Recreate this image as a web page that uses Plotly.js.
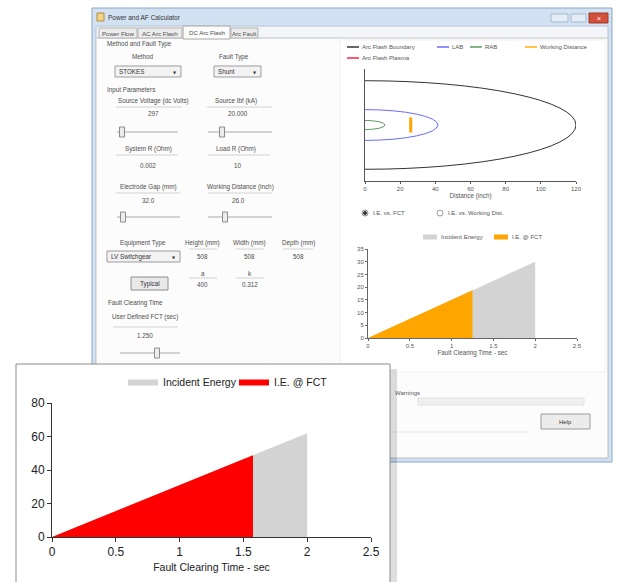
<!DOCTYPE html>
<html><head><meta charset="utf-8">
<script src="https://cdn.plot.ly/plotly-3.0.1.min.js"></script>
<style>html,body{margin:0;padding:0;background:#fff}#chart{width:620px;height:582px}</style>
</head><body><div id="chart"></div>
<script>
// ================= DATA =================
// Inset chart: incident energy vs fault clearing time
const ieTime = [0, 2.0];
const ieEnergy = [0, 62];
const fctTime = [0, 1.575];
const fctEnergy = [0, 48.8];
const ieXTicks = [0, 0.5, 1, 1.5, 2, 2.5];
const ieXLabels = ['0', '0.5', '1', '1.5', '2', '2.5'];
const ieYTicks = [0, 20, 40, 60, 80];
const ieSeriesNames = ['Incident Energy', 'I.E. @ FCT'];

// Small chart inside the calculator window
const winIeTime = [0, 2.0];
const winIeEnergy = [0, 30];
const winFctTime = [0, 1.25];
const winFctEnergy = [0, 18.75];
const winYTicks = [0, 5, 10, 15, 20, 25, 30, 35];

// Boundary chart inside the calculator window (inch)
const boundaryNames = ['Arc Flash Boundary', 'LAB', 'RAB'];
const boundaryDistance = [120, 41.5, 11.4];
const boundaryHalfHeight = [25.3, 8.8, 2.6];
const workingDistance = 26.0;
const workingHalfHeight = 4.3;
const distTicks = [0, 20, 40, 60, 80, 100, 120];

// ================= HELPERS =================
const W = 620, H = 582;
const px = x => x / W, py = y => 1 - y / H;
const UI = 'Liberation Sans, Arial, sans-serif';
const shapes = [], ann = [];
function rect(x0, y0, x1, y1, fill, line, lw) {
  shapes.push({type: 'rect', xref: 'paper', yref: 'paper', layer: 'below',
    x0: px(x0), x1: px(x1), y0: py(y1), y1: py(y0),
    fillcolor: fill || 'rgba(0,0,0,0)',
    line: {color: line || 'rgba(0,0,0,0)', width: lw == null ? 1 : lw}});
}
function line(x0, y0, x1, y1, color, w) {
  shapes.push({type: 'line', xref: 'paper', yref: 'paper', layer: 'below',
    x0: px(x0), x1: px(x1), y0: py(y0), y1: py(y1), line: {color: color, width: w || 1}});
}
function circ(cx, cy, r, fill, color) {
  shapes.push({type: 'circle', xref: 'paper', yref: 'paper', layer: 'below',
    x0: px(cx - r), x1: px(cx + r), y0: py(cy + r), y1: py(cy - r),
    fillcolor: fill, line: {color: color, width: 1}});
}
function txt(x, y, t, anchor, size, color, fam) {
  ann.push({xref: 'paper', yref: 'paper', x: px(x), y: py(y), text: t, showarrow: false,
    xanchor: anchor || 'center', yanchor: 'middle', borderpad: 0,
    font: {family: fam || UI, size: size || 6.3, color: color || '#4d4d4d'}});
}
function dropdown(x0, y0, x1, y1, label) {
  rect(x0, y0, x1, y1, '#f3f3f3', '#9c9c9c', 1);
  txt(x0 + 3, (y0 + y1) / 2, label, 'left', 6.3, '#333');
  txt(x1 - 6, (y0 + y1) / 2 + 0.5, '▼', 'center', 4, '#333', 'DejaVu Sans');
}
function slider(x0, x1, y, thumb) {
  line(x0, y, x1, y, '#a8a8a8', 1);
  rect(thumb - 2.5, y - 5, thumb + 2.5, y + 5, '#ececec', '#8c8c8c', 1);
}
const sep = '#d2d2d2';

// ================= WINDOW CHROME =================
rect(92, 8, 612, 462, '#d3e2f2', '#8aa6c6', 1);          // frame
rect(96, 26, 608, 458, '#f3f5f8', '#b4c6db', 1);          // client area
rect(96, 38, 608, 458, '#fcfcfc', '#c3c3c3', 1);          // tab page
// title bar
rect(97, 13, 104, 21, '#f1d48a', '#b08a3c', 1);
txt(107, 17, 'Power and AF Calculator', 'left', 6.5, '#333');
rect(551, 14, 568, 22, '#e4ecf5', '#a7b9cf', 1);
rect(571, 14, 586, 22, '#e4ecf5', '#a7b9cf', 1);
rect(589, 13, 608, 23, '#d4503c', '#9a3a2c', 1);
txt(598.5, 18, '×', 'center', 7, '#fff');
// tabs
rect(99, 28, 137, 38, '#ececec', '#b3b3b3', 1);
rect(138, 28, 182, 38, '#ececec', '#b3b3b3', 1);
rect(231, 28, 258, 38, '#ececec', '#b3b3b3', 1);
rect(183, 26, 230, 39, '#fcfcfc', '#a6a6a6', 1);
txt(118, 33, 'Power Flow', 'center', 6.1);
txt(160, 33, 'AC Arc Flash', 'center', 6.1);
txt(206.5, 32, 'DC Arc Flash', 'center', 6.1);
txt(244.5, 33, 'Arc Fault', 'center', 6.1);

// left panel
txt(106, 44, 'Method and Fault Type', 'left');
txt(143, 57, 'Method');
txt(234, 57, 'Fault Type');
dropdown(115, 66, 181, 77, 'STOKES');
dropdown(214, 66, 261, 77, 'Shunt');
txt(106, 90, 'Input Parameters', 'left');
txt(153, 101, 'Source Voltage (dc Volts)');
txt(236, 101, 'Source Ibf (kA)');
line(116, 107, 182, 107, sep); line(207, 107, 272, 107, sep);
txt(153, 114, '297');
txt(238, 114, '20.000');
slider(117, 178, 132, 122);
slider(208, 272, 132, 222);
txt(148, 149, 'System R (Ohm)');
txt(236, 149, 'Load R (Ohm)');
line(116, 155, 178, 155, sep); line(208, 155, 270, 155, sep);
txt(148, 165, '0.002');
txt(238, 165, '10');
txt(148, 187, 'Electrode Gap (mm)');
txt(240, 187, 'Working Distance (inch)');
line(116, 193, 180, 193, sep); line(208, 193, 272, 193, sep);
txt(148, 200, '32.0');
txt(238, 200, '26.0');
slider(117, 180, 217, 123);
slider(208, 272, 217, 225);
txt(143, 243, 'Equipment Type');
txt(203, 243, 'Height (mm)');
txt(250, 243, 'Width (mm)');
txt(298, 243, 'Depth (mm)');
line(189, 249, 217, 249, sep); line(236, 249, 264, 249, sep); line(283, 249, 313, 249, sep);
dropdown(107, 251, 180, 262, 'LV Switchgear');
txt(203, 256, '508'); txt(250, 256, '508'); txt(298, 256, '508');
txt(203, 273, 'a'); txt(250, 273, 'k');
line(189, 278, 217, 278, sep); line(236, 278, 264, 278, sep);
rect(131, 277, 168, 290, '#e9e9e9', '#8e8e8e', 1);
txt(149.5, 283.5, 'Typical', 'center', 6.3, '#333');
txt(203, 284, '400'); txt(250, 284, '0.312');
txt(107, 303, 'Fault Clearing Time', 'left');
txt(145, 317, 'User Defined FCT (sec)');
line(113, 327, 178, 327, sep);
txt(145, 335, '1.250');
slider(120, 180, 353, 157);

// right panel
rect(340, 40, 605, 372, '#ffffff', '#f0f0f0', 1);
const legRow = [
  {x: 347, y: 47, c: '#333333', t: boundaryNames[0]},
  {x: 437, y: 47, c: '#6a6aff', t: boundaryNames[1]},
  {x: 470, y: 47, c: '#5d9b5d', t: boundaryNames[2]},
  {x: 525, y: 47, c: '#ffb000', t: 'Working Distance'},
  {x: 347, y: 58, c: '#ff2040', t: 'Arc Flash Plasma'}
];
legRow.forEach(l => { line(l.x, l.y, l.x + 12, l.y, l.c, 1.5); txt(l.x + 14, l.y, l.t, 'left', 6, '#555'); });
circ(365, 213, 3, '#ffffff', '#8a8a8a');
circ(365, 213, 1.5, '#333333', '#333333');
txt(372, 213, 'I.E. vs. FCT', 'left', 6, '#555');
circ(440, 213, 3, '#ffffff', '#9a9a9a');
txt(447, 213, 'I.E. vs. Working Dist.', 'left', 6, '#555');
rect(423, 234.5, 437, 239.5, '#d3d3d3', null, 0);
txt(440, 237, ieSeriesNames[0], 'left', 6, '#555');
rect(494, 234.5, 508, 239.5, '#ffa500', null, 0);
txt(511, 237, ieSeriesNames[1], 'left', 6, '#555');

// bottom right of window
txt(394, 393, 'Warnings', 'left', 6, '#555');
rect(418, 398, 584, 405, '#efefef', '#e2e2e2', 1);
rect(541, 414, 590, 429, '#ececec', '#9c9c9c', 1);
txt(565.5, 421.5, 'Help', 'center', 6, '#333');
line(393, 432, 530, 432, '#e6e6e6', 1);

// ================= INSET PANEL =================
rect(390, 369, 397, 600, 'rgba(0,0,0,0.13)', null, 0);
rect(16, 364, 390, 600, '#ffffff', '#8c8c8c', 1);

// boundary ellipses (half ellipses clipped by the axis)
boundaryDistance.forEach((d, i) => {
  shapes.push({type: 'circle', xref: 'x3', yref: 'y3', layer: 'above',
    x0: -d, x1: d, y0: -boundaryHalfHeight[i], y1: boundaryHalfHeight[i],
    line: {color: legRow[i].c, width: 1}});
});

// ================= TRACES =================
const traces = [
  {x: ieTime, y: ieEnergy, name: ieSeriesNames[0], type: 'scatter', mode: 'lines',
   line: {width: 0, color: '#d3d3d3'}, fill: 'tozeroy', fillcolor: '#d3d3d3',
   xaxis: 'x', yaxis: 'y', hoverinfo: 'skip'},
  {x: fctTime, y: fctEnergy, name: ieSeriesNames[1], type: 'scatter', mode: 'lines',
   line: {width: 0, color: '#ff0000'}, fill: 'tozeroy', fillcolor: '#ff0000',
   xaxis: 'x', yaxis: 'y', hoverinfo: 'skip'},
  {x: winIeTime, y: winIeEnergy, type: 'scatter', mode: 'lines', showlegend: false,
   line: {width: 0}, fill: 'tozeroy', fillcolor: '#d3d3d3', xaxis: 'x2', yaxis: 'y2'},
  {x: winFctTime, y: winFctEnergy, type: 'scatter', mode: 'lines', showlegend: false,
   line: {width: 0}, fill: 'tozeroy', fillcolor: '#ffa500', xaxis: 'x2', yaxis: 'y2'},
  {x: [workingDistance, workingDistance], y: [-workingHalfHeight, workingHalfHeight],
   type: 'scatter', mode: 'lines', showlegend: false, line: {width: 3, color: '#ffa500'},
   xaxis: 'x3', yaxis: 'y3'}
];

const baseAxis = {showgrid: false, zeroline: false, showline: true, linewidth: 1,
  ticks: 'outside', fixedrange: true};

const layout = {
  width: W, height: H, autosize: false,
  margin: {l: 0, r: 0, t: 0, b: 0, pad: 0},
  paper_bgcolor: '#ffffff', plot_bgcolor: 'rgba(0,0,0,0)',
  font: {family: UI},
  showlegend: true,
  legend: {orientation: 'h', x: px(123), y: py(367), xanchor: 'left', yanchor: 'top',
    font: {family: UI, size: 10.5, color: '#222'}, bgcolor: 'rgba(0,0,0,0)',
    itemwidth: 30, traceorder: 'normal', entrywidth: 66, entrywidthmode: 'pixels'},
  xaxis: Object.assign({}, baseAxis, {domain: [px(52), px(371)], range: [0, 2.5],
    tickvals: ieXTicks, ticktext: ieXLabels, linecolor: '#333', tickcolor: '#333', ticklen: 4,
    tickfont: {family: UI, size: 12, color: '#222'}, anchor: 'y',
    title: {text: 'Fault Clearing Time - sec', font: {family: UI, size: 10.5, color: '#222'}, standoff: 5}}),
  yaxis: Object.assign({}, baseAxis, {domain: [py(537), py(403)], range: [0, 80],
    tickvals: ieYTicks, linecolor: '#333', tickcolor: '#333', ticklen: 4,
    tickfont: {family: UI, size: 12, color: '#222'}, anchor: 'x'}),
  xaxis2: Object.assign({}, baseAxis, {domain: [px(368), px(577)], range: [0, 2.5],
    tickvals: ieXTicks, ticktext: ieXLabels, linecolor: '#666', tickcolor: '#666', ticklen: 2,
    tickfont: {family: UI, size: 6, color: '#555'}, anchor: 'y2',
    title: {text: 'Fault Clearing Time - sec', font: {family: UI, size: 6.3, color: '#555'}, standoff: 2}}),
  yaxis2: Object.assign({}, baseAxis, {domain: [py(338), py(249)], range: [0, 35],
    tickvals: winYTicks, linecolor: '#666', tickcolor: '#666', ticklen: 2,
    tickfont: {family: UI, size: 6, color: '#555'}, anchor: 'x2'}),
  xaxis3: Object.assign({}, baseAxis, {domain: [px(365), px(576)], range: [0, 120],
    tickvals: distTicks, linecolor: '#555', tickcolor: '#555', ticklen: 2,
    tickfont: {family: UI, size: 6, color: '#555'}, anchor: 'y3',
    title: {text: 'Distance (inch)', font: {family: UI, size: 6.3, color: '#555'}, standoff: 2}}),
  yaxis3: Object.assign({}, baseAxis, {domain: [py(181), py(69)], range: [-32, 32],
    showticklabels: false, ticks: '', linecolor: '#555', anchor: 'x3'}),
  shapes: shapes,
  annotations: ann
};

Plotly.newPlot('chart', traces, layout, {staticPlot: true, displayModeBar: false});
</script>
</body></html>
